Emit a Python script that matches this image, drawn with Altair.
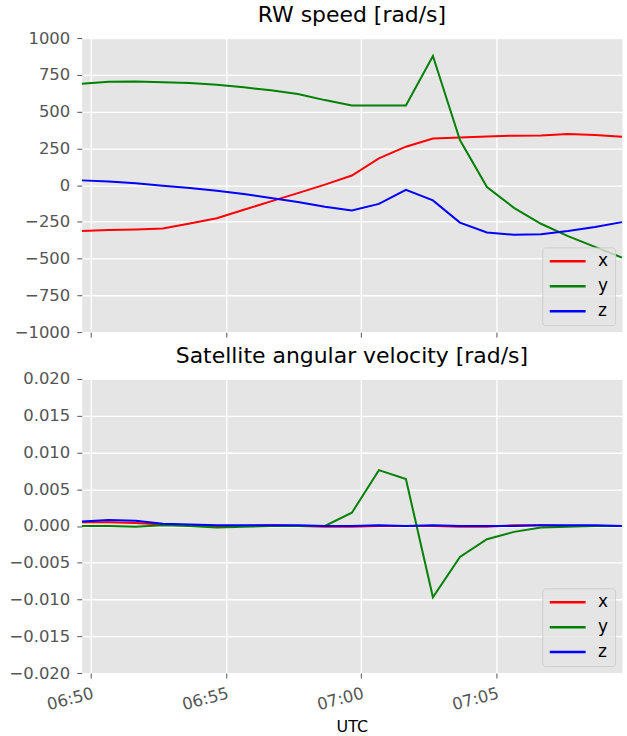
import altair as alt
import pandas as pd

# Sample times (one reading per minute)
times = [
    "2024-01-01T06:49:40", "2024-01-01T06:50:40", "2024-01-01T06:51:40",
    "2024-01-01T06:52:40", "2024-01-01T06:53:40", "2024-01-01T06:54:40",
    "2024-01-01T06:55:40", "2024-01-01T06:56:40", "2024-01-01T06:57:40",
    "2024-01-01T06:58:40", "2024-01-01T06:59:40", "2024-01-01T07:00:40",
    "2024-01-01T07:01:40", "2024-01-01T07:02:40", "2024-01-01T07:03:40",
    "2024-01-01T07:04:40", "2024-01-01T07:05:40", "2024-01-01T07:06:40",
    "2024-01-01T07:07:40", "2024-01-01T07:08:40", "2024-01-01T07:09:40",
]

# Reaction wheel speeds [rad/s]
rw_x = [-313, -305, -302, -295, -262, -225, -168, -111, -55, 3, 65,
        182, 261, 317, 324, 331, 336, 338, 347, 340, 328]
rw_y = [690, 702, 705, 700, 695, 683, 665, 645, 620, 578, 542,
        542, 542, 878, 306, -13, -155, -263, -347, -420, -493]
rw_z = [32, 25, 13, -5, -20, -38, -60, -88, -115, -148, -172,
        -128, -32, -104, -255, -322, -338, -334, -313, -285, -252]

# Satellite angular velocity [rad/s]
w_x = [0.0005, 0.0005, 0.0004, 0.0002, 0.0001, 0.0, 0.0, 0.0001, 0.0, -0.0001, -0.0001,
       0.0, 0.0, 0.0, -0.0001, -0.0001, 0.0001, 0.0001, 0.0, 0.0, 0.0]
w_y = [0.0, 0.0, -0.0001, 0.0001, 0.0, -0.0002, -0.0001, 0.0, 0.0, 0.0, 0.0018,
       0.0076, 0.0064, -0.0097, -0.0042, -0.0018, -0.0008, -0.0002, -0.0001, 0.0, 0.0]
w_z = [0.0006, 0.0008, 0.0007, 0.0003, 0.0002, 0.0001, 0.0001, 0.0001, 0.0001, 0.0, 0.0,
       0.0001, 0.0, 0.0001, 0.0, 0.0, 0.0, 0.0001, 0.0001, 0.0001, 0.0]

axes_names = ["x", "y", "z"]
line_colors = ["#ff0000", "#008000", "#0000ff"]

rw_ticks = [-1000, -750, -500, -250, 0, 250, 500, 750, 1000]
w_ticks = [-0.020, -0.015, -0.010, -0.005, 0.0, 0.005, 0.010, 0.015, 0.020]


def long_table(series):
    rows = []
    for name, vals in zip(axes_names, series):
        for t, v in zip(times, vals):
            rows.append({"t": t, "axis": name, "v": v})
    return pd.DataFrame(rows)


rw_df = long_table([rw_x, rw_y, rw_z])
w_df = long_table([w_x, w_y, w_z])


def dt(h, m, s=0):
    return alt.DateTime(year=2024, month=1, date=1, hours=h, minutes=m, seconds=s)


x_domain = [dt(6, 49, 40), dt(7, 9, 40)]
x_ticks = [dt(6, 50), dt(6, 55), dt(7, 0), dt(7, 5)]

W, H = 542, 295

legend = alt.Legend(
    title=None,
    orient="bottom-right",
    offset=7,
    fillColor="rgba(229,229,229,0.8)",
    strokeColor="rgba(204,204,204,0.9)",
    cornerRadius=3,
    padding=6,
    symbolType="stroke",
    symbolSize=1296,
    symbolStrokeWidth=2.5,
    clipHeight=16,
    rowPadding=8,
    labelOffset=11,
    labelFontSize=17,
    labelColor="black",
    labelFont="DejaVu Sans",
)

color = alt.Color(
    "axis:N",
    scale=alt.Scale(domain=axes_names, range=line_colors),
    legend=legend,
)

top = (
    alt.Chart(rw_df, title="RW speed [rad/s]")
    .mark_line(strokeWidth=2, clip=True)
    .encode(
        x=alt.X("t:T", scale=alt.Scale(domain=x_domain),
                axis=alt.Axis(values=x_ticks, labels=False, title=None)),
        y=alt.Y("v:Q", scale=alt.Scale(domain=[-1000, 1000], nice=False),
                axis=alt.Axis(values=rw_ticks, format="d", title=None)),
        color=color,
    )
    .properties(width=W, height=H)
)

bottom = (
    alt.Chart(w_df, title="Satellite angular velocity [rad/s]")
    .mark_line(strokeWidth=2, clip=True)
    .encode(
        x=alt.X("t:T", scale=alt.Scale(domain=x_domain),
                axis=alt.Axis(values=x_ticks, format="%H:%M", labelAngle=345,
                              labelAlign="right", labelBaseline="top",
                              title="UTC", titleFontSize=16,
                              titleFontWeight="normal", titleColor="black",
                              titleFont="DejaVu Sans", titlePadding=5)),
        y=alt.Y("v:Q", scale=alt.Scale(domain=[-0.02, 0.02], nice=False),
                axis=alt.Axis(values=w_ticks, format=".3f", title=None)),
        color=color,
    )
    .properties(width=W, height=H)
)

chart = (
    alt.vconcat(top, bottom, spacing=3)
    .resolve_scale(color="independent")
    .resolve_legend(color="independent")
    .properties(padding={"left": 8, "top": 2, "right": 4, "bottom": 0})
    .configure(background="white")
    .configure_view(fill="#e5e5e5", stroke="transparent")
    .configure_axis(
        domain=False,
        grid=True,
        gridColor="white",
        gridWidth=1.3,
        tickColor="#555555",
        tickSize=5,
        tickWidth=1,
        labelColor="#555555",
        labelFont="DejaVu Sans",
        labelFontSize=16.5,
        labelPadding=7,
    )
    .configure_title(
        font="DejaVu Sans",
        fontSize=22,
        fontWeight="normal",
        color="black",
        anchor="middle",
        offset=3,
    )
)

chart.save("out.html", embed_options={"renderer": "svg", "actions": False})
